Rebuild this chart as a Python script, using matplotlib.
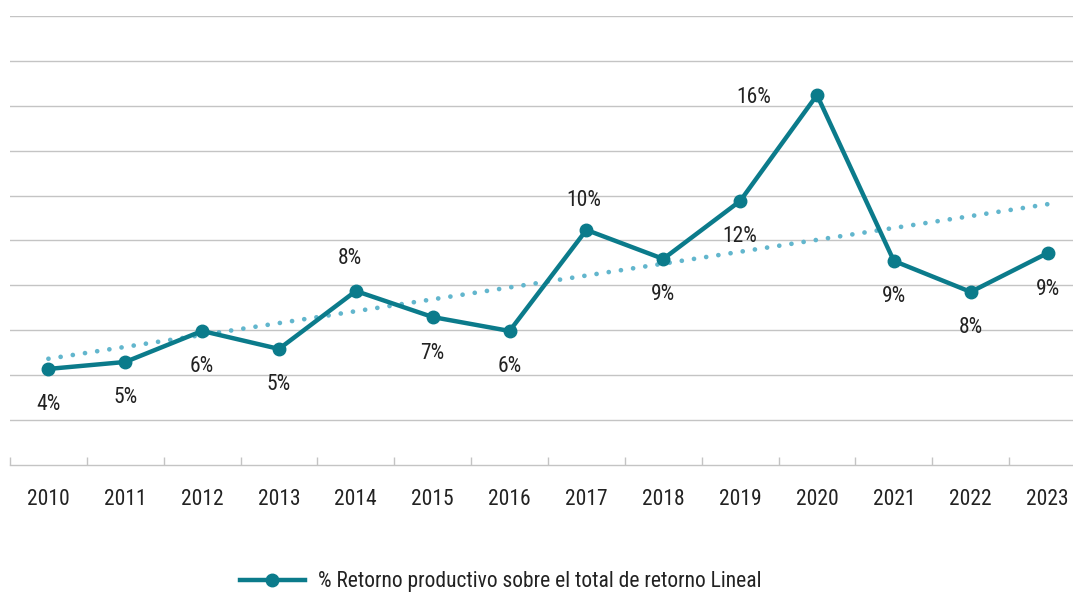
import numpy as np
import matplotlib
matplotlib.use('Agg')
import matplotlib.pyplot as plt
from matplotlib.lines import Line2D

# Datos
years = ['2010', '2011', '2012', '2013', '2014', '2015', '2016',
         '2017', '2018', '2019', '2020', '2021', '2022', '2023']
retorno = [4.28, 4.59, 5.97, 5.17, 7.75, 6.59, 5.97,
           10.47, 9.18, 11.76, 16.48, 9.09, 7.71, 9.44]
labels = ['4%', '5%', '6%', '5%', '8%', '7%', '6%',
          '10%', '9%', '12%', '16%', '9%', '8%', '9%']

# desplazamiento de etiquetas (px): abajo por defecto
label_off = [(0, -36)] * 14
label_off[4] = (-6, 33)
label_off[7] = (-3, 29)
label_off[10] = (-63, -2)

TEAL = '#0b7b8b'
TREND = '#62b6cd'
GRID = '#c4c4c4'
TXT = '#222222'
FS = 15.5

plt.rcParams['font.family'] = ['Roboto Condensed', 'Liberation Sans Narrow',
                               'Arial Narrow', 'Roboto', 'DejaVu Sans']
plt.rcParams['font.stretch'] = 'condensed'

fig = plt.figure(figsize=(10.73, 5.92), dpi=100)
W, H = 1073, 592
ax = fig.add_axes([10 / W, 127 / H, 1076 / W, 449 / H])

x = np.arange(len(years))
y = np.array(retorno)

# Tendencia lineal
coef = np.polyfit(x, y, 1)
ax.plot(x, np.polyval(coef, x), color=TREND, lw=3.4,
        linestyle=(0, (0.01, 2.6)), dash_capstyle='round', zorder=2)

ax.plot(x, y, color=TEAL, lw=3.2, marker='o', markersize=9,
        solid_joinstyle='round', zorder=3)

for xi, yi, lab, (dx, dy) in zip(x, y, labels, label_off):
    ax.annotate(lab, (xi, yi), xytext=(dx * 0.72, dy * 0.72),
                textcoords='offset points', ha='center', va='center',
                fontsize=FS, color=TXT)

ax.set_xlim(-0.5, len(years) - 0.5)
ax.set_ylim(0, 20)
ax.set_yticks(np.arange(2, 21, 2))
ax.set_yticklabels([])
ax.yaxis.grid(True, color=GRID, lw=1.0)
ax.tick_params(axis='y', length=0)
ax.set_axisbelow(True)

ax.set_xticks(x)
ax.set_xticklabels(years, fontsize=FS, color=TXT)
ax.set_xticks(np.arange(-0.5, len(years), 1), minor=True)
ax.tick_params(axis='x', which='major', length=0, pad=17)
ax.tick_params(axis='x', which='minor', direction='in', length=6,
               color=GRID, width=1.0)

for s in ['left', 'right', 'top']:
    ax.spines[s].set_visible(False)
ax.spines['bottom'].set_color(GRID)
ax.spines['bottom'].set_linewidth(1.0)

handle = Line2D([], [], color=TEAL, lw=3.2, marker='o', markersize=9)
fig.legend([handle], ['% Retorno productivo sobre el total de retorno Lineal'],
           loc='center left', bbox_to_anchor=(240 / W, 1 - 582 / H),
           frameon=False, borderpad=0, borderaxespad=0,
           fontsize=FS, handlelength=3.0, handletextpad=0.6,
           labelcolor=TXT)

fig.savefig('out.png', dpi=100)
